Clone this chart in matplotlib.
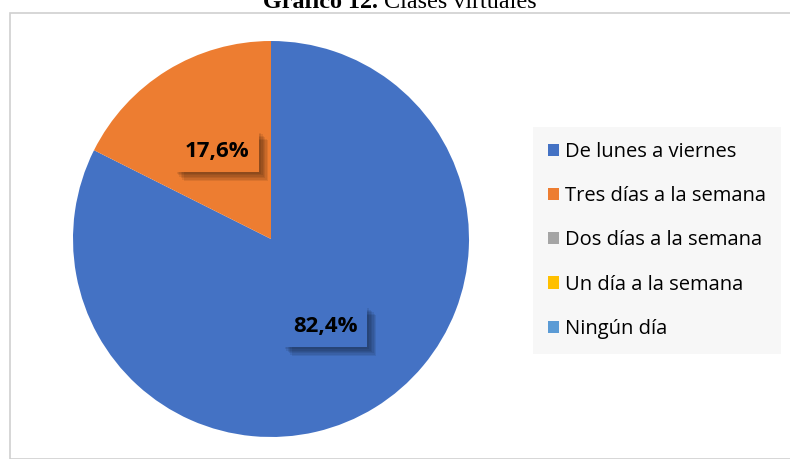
import matplotlib.pyplot as plt
import matplotlib.patheffects as pe
from matplotlib.patches import Patch, Rectangle
import numpy as np

categories = ["De lunes a viernes", "Tres días a la semana", "Dos días a la semana",
              "Un día a la semana", "Ningún día"]
values = [82.4, 17.6, 0, 0, 0]
colors = ["#4472C4", "#ED7D31", "#A5A5A5", "#FFC000", "#5B9BD5"]

plt.rcParams['font.family'] = ['Open Sans', 'DejaVu Sans']

fig = plt.figure(figsize=(7.9, 4.59), dpi=100)
W, H = 790, 459

# chart border
fig.patches.append(Rectangle((10 / W, 0), 1, 1 - 13 / H, transform=fig.transFigure,
                             fill=False, edgecolor="#d0d0d0", linewidth=1.2))

ax = fig.add_axes([73 / W, (H - 437) / H, 396 / W, 396 / H])
wedges, _ = ax.pie(values, colors=colors, startangle=90, counterclock=False, radius=1)
ax.set_xlim(-1, 1)
ax.set_ylim(-1, 1)

# soft shadow made from a few stacked offsets
shadow = [pe.SimplePatchShadow(offset=(k, -k), shadow_rgbFace="black", alpha=0.08)
          for k in (1.5, 2.5, 3.5, 4.5, 5.5, 6.5)]

# data labels
for w, v in zip(wedges, values):
    if v <= 0:
        continue
    ang = np.deg2rad((w.theta1 + w.theta2) / 2)
    r = 0.52
    t = ax.text(r * np.cos(ang), r * np.sin(ang), f"{v:.1f}%".replace(".", ","),
                ha="center", va="center", fontsize=16, fontweight="bold", color="black",
                bbox=dict(boxstyle="square,pad=0.45", facecolor=w.get_facecolor(), edgecolor="none"))
    t.get_bbox_patch().set_path_effects(shadow + [pe.Normal()])

handles = [Patch(facecolor=c, edgecolor="none") for c in colors]
leg = fig.legend(handles, categories, loc="upper left",
                 bbox_to_anchor=(533 / W, 1 - 127 / H), fontsize=14.5,
                 frameon=True, fancybox=False, facecolor="#f7f7f7", edgecolor="none",
                 framealpha=1, handlelength=0.55, handleheight=0.55, handletextpad=0.3,
                 labelspacing=1.2, borderpad=0.75, borderaxespad=0)

# title (top is cut off in the reference)
fig.canvas.draw()
r = fig.canvas.get_renderer()
tb = fig.text(0, 1 - 8 / H, "Gráfico 12.", family="Liberation Serif", fontweight="bold",
              fontsize=17.4, va="baseline", ha="left")
tn = fig.text(0, 1 - 8 / H, " Clases virtuales", family="Liberation Serif",
              fontsize=17.4, va="baseline", ha="left")
wb = tb.get_window_extent(r).width
wn = tn.get_window_extent(r).width
x0 = 400 - (wb + wn) / 2
tb.set_x(x0 / W)
tn.set_x((x0 + wb) / W)

fig.savefig("out.png", dpi=100)
